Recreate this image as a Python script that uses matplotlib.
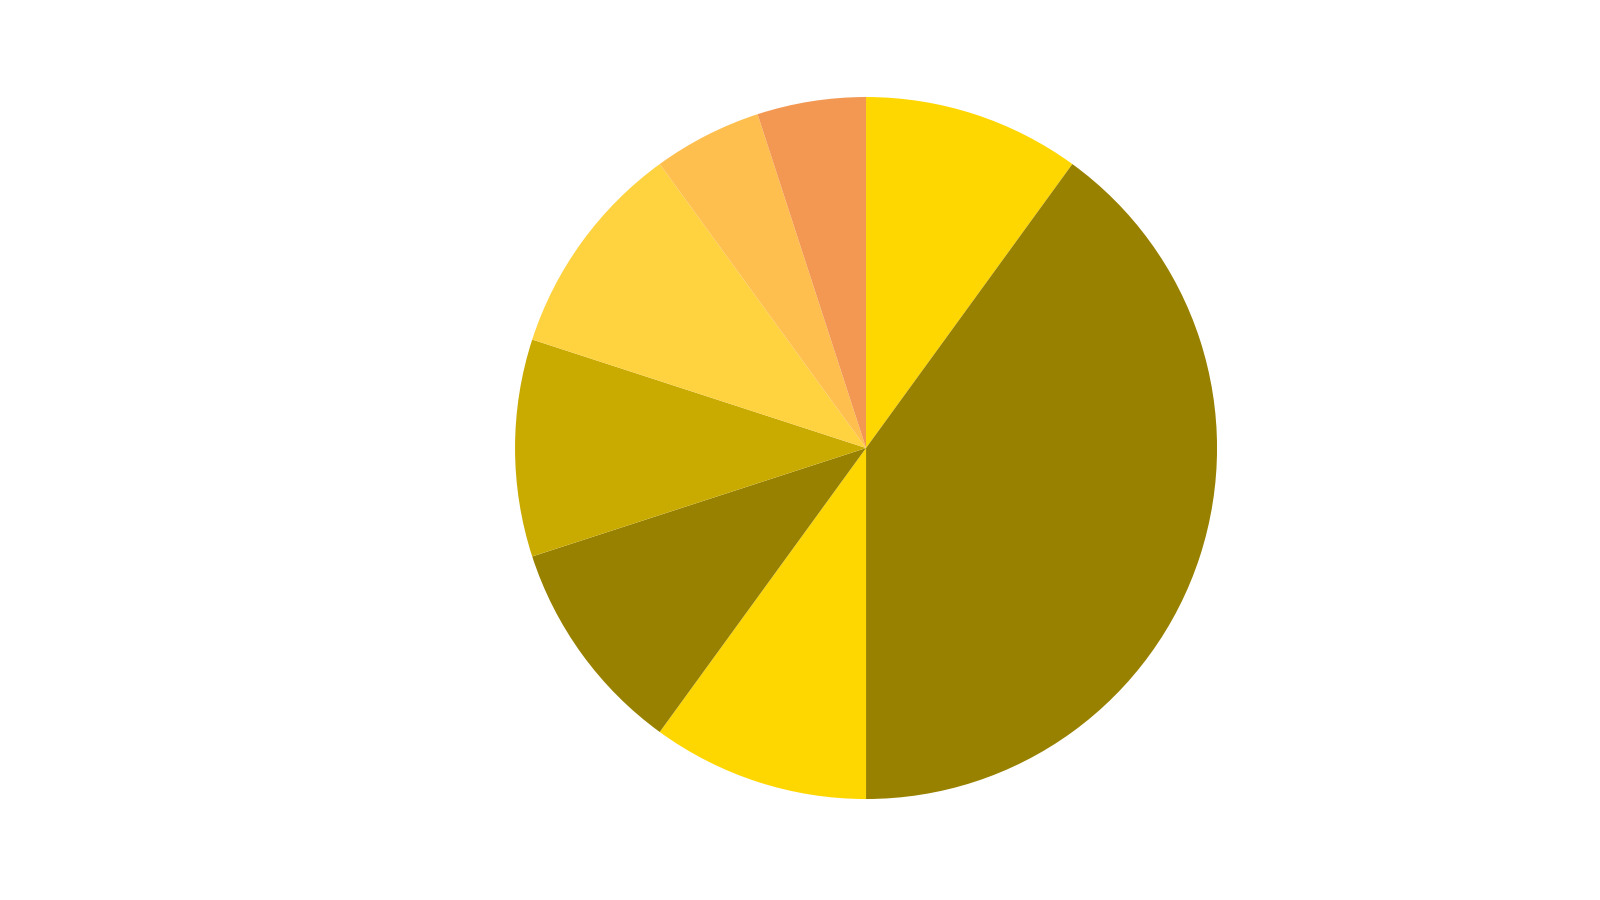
import matplotlib.pyplot as plt

# Parts du camembert (sens horaire depuis le haut)
labels = ['A', 'B', 'C', 'D', 'E', 'F', 'G', 'H']
values = [10, 40, 10, 10, 10, 10, 5, 5]
colors = ['#FFD700', '#998100', '#FFD700', '#998100',
          '#C9AB00', '#FFD23F', '#FFBF4F', '#F39853']

fig = plt.figure(figsize=(16, 9), dpi=100)
# centre ~ (866, 448) px, rayon ~ 351 px
ax = fig.add_axes([0.3219, 0.1122, 0.43875, 0.78])

ax.pie(values, colors=colors, startangle=90, counterclock=False,
       wedgeprops=dict(linewidth=0))
ax.set_xlim(-1, 1)
ax.set_ylim(-1, 1)
ax.set_aspect('equal')
ax.axis('off')

plt.savefig('out.png', dpi=100)
plt.close()
